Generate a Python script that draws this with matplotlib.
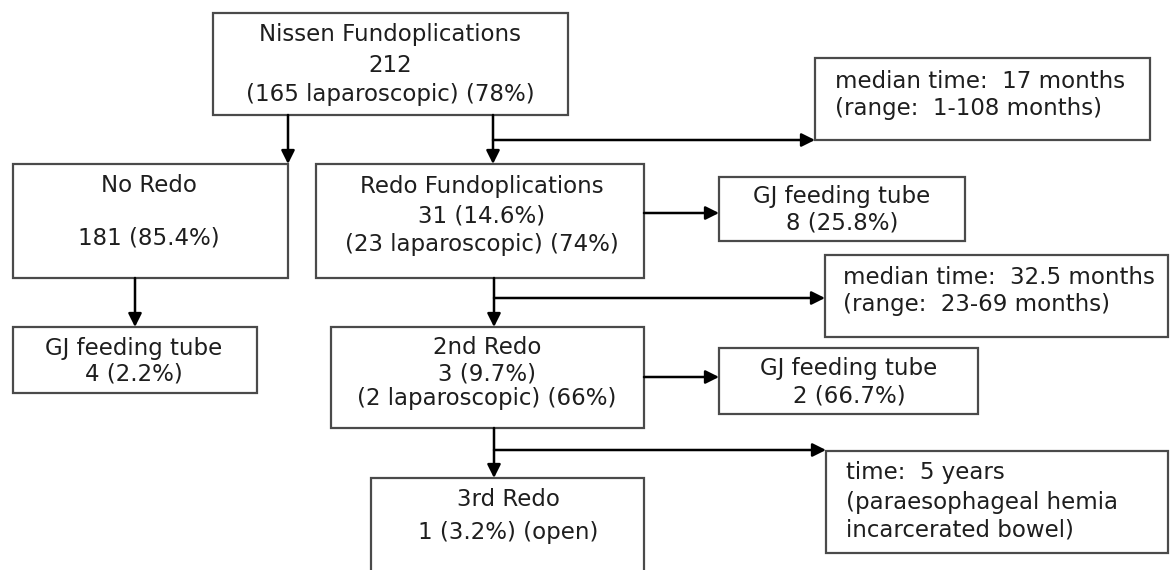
import matplotlib
matplotlib.use("Agg")
import matplotlib.pyplot as plt
from matplotlib.patches import Rectangle

# box texts (one entry per line)
nissen_lines = ["Nissen Fundoplications", "212", "(165 laparoscopic) (78%)"]
no_redo_lines = ["No Redo", "181 (85.4%)"]
gj1_lines = ["GJ feeding tube", "4 (2.2%)"]
redo_lines = ["Redo Fundoplications", "31 (14.6%)", "(23 laparoscopic) (74%)"]
gj2_lines = ["GJ feeding tube", "8 (25.8%)"]
median1_lines = ["median time:  17 months", "(range:  1-108 months)"]
redo2_lines = ["2nd Redo", "3 (9.7%)", "(2 laparoscopic) (66%)"]
gj3_lines = ["GJ feeding tube", "2 (66.7%)"]
median2_lines = ["median time:  32.5 months", "(range:  23-69 months)"]
redo3_lines = ["3rd Redo", "1 (3.2%) (open)"]
time_lines = ["time:  5 years", "(paraesophageal hemia", "incarcerated bowel)"]

# layout in pixel units: (x0, y0, x1, y1), text anchor x, line y's, alignment
boxes = [
    (nissen_lines, (213, 13, 568, 115), 390, [35, 65, 95], "center"),
    (no_redo_lines, (13, 164, 288, 278), 149, [185, 238], "center"),
    (gj1_lines, (13, 327, 257, 393), 134, [348, 374], "center"),
    (redo_lines, (316, 164, 644, 278), 482, [187, 216, 245], "center"),
    (gj2_lines, (719, 177, 965, 241), 842, [197, 223], "center"),
    (median1_lines, (815, 58, 1150, 140), 835, [82, 108], "left"),
    (redo2_lines, (331, 327, 644, 428), 487, [348, 374, 399], "center"),
    (gj3_lines, (719, 348, 978, 414), 849, [369, 396], "center"),
    (median2_lines, (825, 255, 1168, 337), 843, [277, 305], "left"),
    (redo3_lines, (371, 478, 644, 600), 508, [500, 532], "center"),
    (time_lines, (826, 451, 1168, 553), 846, [473, 502, 530], "left"),
]

arrows = [
    ((288, 115), (288, 164)),
    ((493, 115), (493, 164)),
    ((493, 140), (815, 140)),
    ((135, 278), (135, 327)),
    ((644, 213), (719, 213)),
    ((494, 278), (494, 327)),
    ((494, 298), (825, 298)),
    ((644, 377), (719, 377)),
    ((494, 428), (494, 478)),
    ((494, 450), (826, 450)),
]

fig = plt.figure(figsize=(11.7, 5.7), dpi=100)
ax = fig.add_axes([0, 0, 1, 1])
ax.set_xlim(0, 1170)
ax.set_ylim(570, 0)
ax.set_axis_off()

for lines, (x0, y0, x1, y1), tx, tys, ha in boxes:
    ax.add_patch(Rectangle((x0, y0), x1 - x0, y1 - y0, facecolor="white",
                           edgecolor="#4a4a4a", linewidth=1.6, zorder=2))
    for line, ty in zip(lines, tys):
        ax.text(tx, ty, line, ha=ha, va="center", fontsize=16.5,
                family="DejaVu Sans", color="#1e1e1e", zorder=3)

for start, end in arrows:
    ax.annotate("", xy=end, xytext=start,
                arrowprops=dict(arrowstyle="-|>", color="black", lw=1.8,
                                mutation_scale=20, shrinkA=0, shrinkB=0),
                zorder=4)

fig.savefig("out.png", dpi=100, facecolor="white")
